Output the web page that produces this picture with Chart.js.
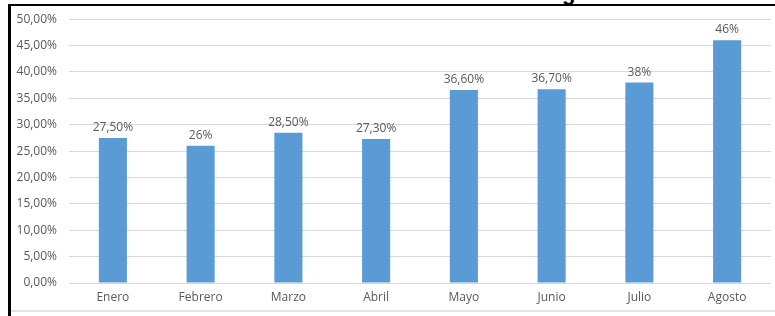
<!DOCTYPE html>
<html lang="es">
<head>
<meta charset="UTF-8">
<title>Porcentaje mensual</title>
<script src="https://cdn.jsdelivr.net/npm/chart.js"></script>
<style>
    body { margin: 0; background: #fff; }
    .marco { position: relative; width: 775px; height: 316px; overflow: hidden; }
    .marco canvas { position: absolute; left: 0; top: 0; }
    .borde { position: absolute; left: 8px; top: 4px; width: 770px; height: 330px;
             border-top: 2px solid #000; border-left: 3px solid #000; }
    .pie { position: absolute; left: 11px; top: 310px; width: 764px; height: 2px; background: #e4e4e4; }
    .titulo { position: absolute; left: 562px; top: -20px; line-height: 22px;
              font: bold 22px "Liberation Sans", Arial, sans-serif; color: #000; }
</style>
</head>
<body>
<div class="marco">
    <div class="titulo">g</div>
    <canvas id="grafico" width="775" height="316"></canvas>
    <div class="borde"></div>
    <div class="pie"></div>
</div>

<script>
// datos del grafico
const meses = ['Enero', 'Febrero', 'Marzo', 'Abril', 'Mayo', 'Junio', 'Julio', 'Agosto'];
const porcentajes = [27.5, 26, 28.5, 27.3, 36.6, 36.7, 38, 46];
const etiquetas = ['27,50%', '26%', '28,50%', '27,30%', '36,60%', '36,70%', '38%', '46%'];
const marcasY = ['0,00%', '5,00%', '10,00%', '15,00%', '20,00%', '25,00%',
                 '30,00%', '35,00%', '40,00%', '45,00%', '50,00%'];

const fuente = { family: '"Open Sans", sans-serif', size: 12 };
const gris = '#595959';

// etiquetas encima de cada barra
const etiquetasBarras = {
    id: 'etiquetasBarras',
    afterDatasetsDraw(chart) {
        const ctx = chart.ctx;
        const barras = chart.getDatasetMeta(0).data;
        ctx.save();
        ctx.font = '12px "Open Sans", sans-serif';
        ctx.fillStyle = gris;
        ctx.textAlign = 'center';
        ctx.textBaseline = 'alphabetic';
        barras.forEach(function (barra, i) {
            ctx.fillText(etiquetas[i], barra.x, barra.y - 7);
        });
        ctx.restore();
    }
};

const config = {
    type: 'bar',
    data: {
        labels: meses,
        datasets: [{
            data: porcentajes,
            backgroundColor: '#5b9bd5',
            borderWidth: 0,
            categoryPercentage: 1,
            barPercentage: 0.32
        }]
    },
    options: {
        responsive: false,
        animation: false,
        layout: { padding: { left: 0, top: 15, right: 4, bottom: 0 } },
        plugins: {
            legend: { display: false },
            tooltip: { enabled: false },
            title: { display: false }
        },
        scales: {
            x: {
                grid: { display: false, drawTicks: false },
                border: { display: false },
                ticks: { color: gris, font: fuente, padding: 7, maxRotation: 0 },
                afterFit(scale) { scale.height = 33; }
            },
            y: {
                min: 0,
                max: 50,
                grid: { color: '#d9d9d9', lineWidth: 1, drawTicks: false },
                border: { display: false },
                ticks: {
                    stepSize: 5,
                    color: gris,
                    font: fuente,
                    padding: 12,
                    callback: function (v) { return marcasY[Math.round(v / 5)]; }
                },
                afterFit(scale) { scale.width = 69; }
            }
        }
    },
    plugins: [etiquetasBarras]
};

new Chart(document.getElementById('grafico'), config);
</script>
</body>
</html>
